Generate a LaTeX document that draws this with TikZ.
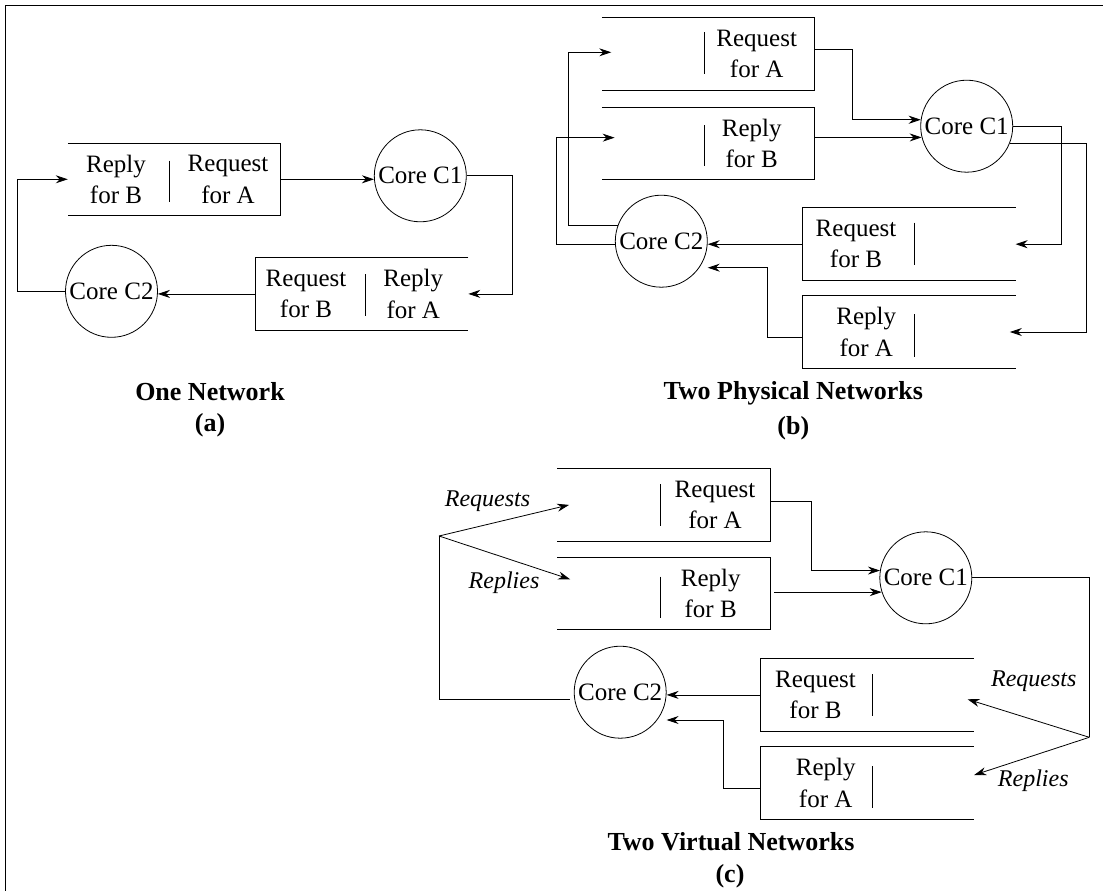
\documentclass[tikz,border=0pt]{standalone}
\usepackage{fontspec}
\setmainfont{Liberation Serif}
\usetikzlibrary{arrows.meta,positioning,calc}
\tikzset{
  buf/.style={rectangle, minimum width=212pt, minimum height=72pt, inner sep=0pt},
  lbl/.style={align=center, inner sep=0pt, font=\fontsize{25}{31.3}\selectfont},
  core/.style={circle, draw, minimum size=92pt, inner sep=0pt, font=\fontsize{25}{30}\selectfont},
  arr/.style={-{Stealth[length=12pt,width=8pt]}},
  ttl/.style={anchor=base, inner sep=0pt, font=\fontsize{26}{32}\selectfont\bfseries},
  flow/.style={anchor=base, inner sep=0pt, font=\fontsize{24}{29}\selectfont\itshape},
}
\begin{document}
\begin{tikzpicture}[x=1pt, y=-1pt, line width=0.8pt]
  \useasboundingbox (0,0) rectangle (1103,891);
  \draw[line width=1.2pt] (5.5,891) -- (5.5,5.5) -- (1103,5.5);

  % (a) one network
  \node[buf] (qa1) at (174.2,179.3) {};
  \node[buf] (qa2) at (361.9,293.9) {};
  \node[lbl] (qa1l) at (116,179.3) {Reply\\for B};
  \node[lbl] (qa1r) at (228,179.3) {Request\\for A};
  \node[lbl] (qa2l) at (306,293.9) {Request\\for B};
  \node[lbl] (qa2r) at (413.3,293.9) {Reply\\for A};
  \node[core] (ca1) at (420.3,175.8) {Core C1};
  \node[core] (ca2) at (111.5,291.3) {Core C2};
  \draw[arr] (qa1.east) -- (qa1.east -| ca1.west);
  \draw[arr] (ca1.east) -- ++(46,0) |- (qa2.east);
  \draw[arr] (qa2.west) -- (qa2.west -| ca2.east);
  \draw[arr] (ca2.west) -- ++(-48,0) |- (qa1.west);
  \node[ttl] (tla) at (210,400) {One Network};
  \node[ttl] (lba) at (210,431.7) {(a)};

  % (b) two physical networks
  \node[buf] (qb1) at (708.3,54.2) {};
  \node[buf] (qb2) at (708.3,143.3) {};
  \node[buf] (qb3) at (909.2,244.2) {};
  \node[buf] (qb4) at (909.2,332) {};
  \node[lbl] (qb1r) at (756.7,54.2) {Request\\for A};
  \node[lbl] (qb2r) at (751.7,143.3) {Reply\\for B};
  \node[lbl] (qb3l) at (856,244.2) {Request\\for B};
  \node[lbl] (qb4l) at (866.3,332) {Reply\\for A};
  \node[core] (cb1) at (966.7,126.2) {Core C1};
  \node[core] (cb2) at (661.3,241.2) {Core C2};
  \draw[arr] ([yshift=5pt]qb1.east) -- ++(38,0) |- (cb1.172);
  \draw[arr] (qb2.east |- cb1.194) -- (cb1.194);
  \draw[arr] (cb1.east) -- ++(48.7,0) |- (qb3.east);
  \draw[arr] (cb1.-22) -- ++(77,0) |- ([xshift=-5.7pt]qb4.east);
  \draw[arr] (qb3.west) -- (qb3.west -| cb2.east);
  \draw[arr] ([yshift=-5.3pt]qb4.west) -- ++(-35,0) |- ([yshift=-26.5pt]cb2.east);
  \draw[arr] (cb2.160) -- ++(-49,0) |- ([xshift=9.4pt,yshift=1.9pt]qb1.west);
  \draw[arr] ([yshift=-2.8pt]cb2.west) -- ++(-59,0) |- ([xshift=12.7pt,yshift=5.6pt]qb2.west);
  \node[ttl] (tlb) at (793.3,399) {Two Physical Networks};
  \node[ttl] (lbb) at (793.3,434) {(b)};

  % (c) two virtual networks
  \node[buf] (qc1) at (663.8,504.9) {};
  \node[buf] (qc2) at (663.8,593.3) {};
  \node[buf] (qc3) at (867.2,694.9) {};
  \node[buf] (qc4) at (867.2,782.9) {};
  \node[lbl] (qc1r) at (715,504.9) {Request\\for A};
  \node[lbl] (qc2r) at (710.7,593.3) {Reply\\for B};
  \node[lbl] (qc3l) at (815.5,694.9) {Request\\for B};
  \node[lbl] (qc4l) at (825.7,782.9) {Reply\\for A};
  \node[core] (cc1) at (925.8,577.8) {Core C1};
  \node[core] (cc2) at (620.2,692.2) {Core C2};
  \coordinate (sr) at (1089.3,737.3);
  \coordinate (sl) at (439,536);
  \draw[arr] ([yshift=4pt]qc1.east) -- ++(40.7,0) |- (cc1.171);
  \draw[arr, shorten <=4pt] (qc2.east |- cc1.198) -- (cc1.198);
  \draw (cc1.east) -| (sr);
  \draw[arr] (sr) -- ([xshift=-6pt,yshift=-4.4pt]qc3.east);
  \draw[arr] (sr) -- ([xshift=0.6pt,yshift=7.9pt]qc4.east);
  \draw[arr] (qc3.west) -- (qc3.west -| cc2.east);
  \draw[arr] ([yshift=-5.4pt]qc4.west) -- ++(-37.4,0) |- ([yshift=-27.8pt]cc2.east);
  \draw ([xshift=-4.3pt,yshift=-6.8pt]cc2.west) -| (sl);
  \draw[arr] (sl) -- ([xshift=11.7pt]qc1.west);
  \draw[arr] (sl) -- ([xshift=12.7pt,yshift=14pt]qc2.west);
  \node[flow] (rqa) at (487.5,506) {Requests};
  \node[flow] (rpa) at (504,588.3) {Replies};
  \node[flow] (rqb) at (1033.8,686) {Requests};
  \node[flow] (rpb) at (1033.3,786) {Replies};
  \node[ttl] (tlc) at (731,850) {Two Virtual Networks};
  \node[ttl] (lbc) at (730,882) {(c)};

  % open-sided buffers and their dividers
  \foreach \b in {qa1,qb1,qb2,qc1,qc2}
    \draw (\b.north west) -- (\b.north east) -- (\b.south east) -- (\b.south west);
  \foreach \b in {qa2,qb3,qb4,qc3,qc4}
    \draw (\b.north east) -- (\b.north west) -- (\b.south west) -- (\b.south east);
  \foreach \x/\ya/\yb in {169/160.7/201.7, 365.7/274/315.7, 704/32.3/74, 704/125/166,
      914.3/222.7/265, 914.3/314.3/356.7, 660/484.3/526, 660/576.7/618.3,
      872.7/674.3/715.7, 872.7/766/808.3}
    \draw (\x,\ya) -- (\x,\yb);
\end{tikzpicture}
\end{document}
